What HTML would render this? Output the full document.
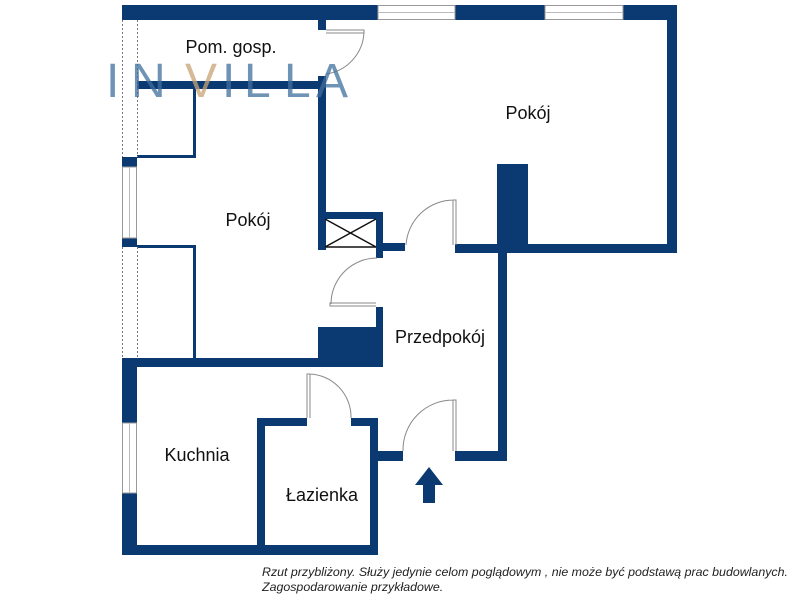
<!DOCTYPE html>
<html><head><meta charset="utf-8"><style>
html,body{margin:0;padding:0;background:#fff;width:800px;height:600px;overflow:hidden}
svg{display:block}
text{font-family:"Liberation Sans",sans-serif}
</style></head><body>
<svg width="800" height="600" viewBox="0 0 800 600" xmlns="http://www.w3.org/2000/svg">
<g fill="#0b3a73">
<rect x="122" y="5" width="256" height="15"/>
<rect x="455" y="5" width="90" height="15"/>
<rect x="623" y="5" width="54" height="15"/>
<rect x="667" y="5" width="10" height="248"/>
<rect x="455" y="244" width="222" height="9"/>
<rect x="497" y="164" width="31" height="89"/>
<rect x="498" y="244" width="9" height="217"/>
<rect x="455" y="451" width="52" height="10"/>
<rect x="376" y="451" width="27" height="10"/>
<rect x="318" y="20" width="8" height="10"/>
<rect x="318" y="76" width="8" height="174"/>
<rect x="137" y="81" width="189" height="8"/>
<rect x="325" y="212" width="58" height="7"/>
<rect x="376" y="212" width="7" height="46"/>
<rect x="383" y="243" width="22" height="8"/>
<rect x="376" y="307" width="7" height="60"/>
<rect x="318" y="327" width="65" height="40"/>
<rect x="122" y="358" width="261" height="9"/>
<rect x="122" y="157" width="15" height="10"/>
<rect x="122" y="238" width="15" height="9"/>
<rect x="122" y="358" width="15" height="65"/>
<rect x="122" y="493" width="15" height="62"/>
<rect x="193" y="87" width="3" height="71"/>
<rect x="137" y="155" width="59" height="3"/>
<rect x="137" y="245" width="59" height="3"/>
<rect x="193" y="245" width="3" height="115"/>
<rect x="257" y="418" width="8" height="137"/>
<rect x="257" y="418" width="50" height="8"/>
<rect x="351" y="418" width="27" height="8"/>
<rect x="370" y="418" width="8" height="137"/>
<rect x="122" y="545" width="256" height="10"/>
<polygon points="429,467 443,485 435,485 435,503 423,503 423,485 415,485"/>
</g>
<g fill="#fff" stroke="#999" stroke-width="1">
<rect x="378" y="5.5" width="77" height="14"/>
<rect x="545" y="5.5" width="78" height="14"/>
<rect x="122.5" y="167" width="14" height="71"/>
<rect x="122.5" y="423" width="14" height="70"/>
</g>
<g stroke="#bbb" stroke-width="1">
<line x1="378" y1="12.5" x2="455" y2="12.5"/><line x1="545" y1="12.5" x2="623" y2="12.5"/>
<line x1="129.5" y1="167" x2="129.5" y2="238"/><line x1="129.5" y1="423" x2="129.5" y2="493"/>
</g>
<g stroke="#777" stroke-width="1" stroke-dasharray="2,2">
<line x1="122.5" y1="20" x2="122.5" y2="157"/><line x1="137.5" y1="20" x2="137.5" y2="157"/>
<line x1="122.5" y1="247" x2="122.5" y2="358"/><line x1="137.5" y1="247" x2="137.5" y2="358"/>
</g>
<g stroke="#111" stroke-width="1.5" fill="none">
<line x1="325" y1="219" x2="376" y2="247"/><line x1="376" y1="219" x2="325" y2="247"/>
<line x1="325" y1="247" x2="376" y2="247"/>
</g>
<g fill="none" stroke="#888" stroke-width="1">
<path d="M326 30 H364 V33 H326 M364 32 A44 44 0 0 1 326 74"/>
<path d="M453 245 V200 H456 V245 M454 200 A48 48 0 0 0 406 245"/>
<path d="M376 306 H330 V303 H376 M331 304 A46 46 0 0 1 377 258"/>
<path d="M307 418 V374 H310 V418 M309 374 A43 43 0 0 1 351 418"/>
<path d="M453 451 V400 H456 V451 M454 400 A50 50 0 0 0 403 451"/>
</g>
<g opacity="0.75" font-size="48" fill="#3f6f9c">
<text x="106" y="97">I</text>
<text x="131" y="97">N</text>
<text x="185" y="97" fill="#c9a274">V</text>
<text x="222" y="97">I</text>
<text x="244" y="97">L</text>
<text x="284" y="97">L</text>
<text x="316" y="97">A</text>
</g>
<g fill="#111" font-size="18">
<text x="231" y="53" text-anchor="middle">Pom. gosp.</text>
<text x="528" y="119" text-anchor="middle">Pokój</text>
<text x="248" y="226" text-anchor="middle">Pokój</text>
<text x="440" y="343" text-anchor="middle">Przedpokój</text>
<text x="197" y="461" text-anchor="middle">Kuchnia</text>
<text x="322" y="501" text-anchor="middle">Łazienka</text>
</g>
<g fill="#222" font-size="12.4" font-style="italic">
<text x="262" y="576">Rzut przybliżony. Służy jedynie celom poglądowym , nie może być podstawą prac budowlanych.</text>
<text x="262" y="591">Zagospodarowanie przykładowe.</text>
</g>
</svg>
</body></html>
